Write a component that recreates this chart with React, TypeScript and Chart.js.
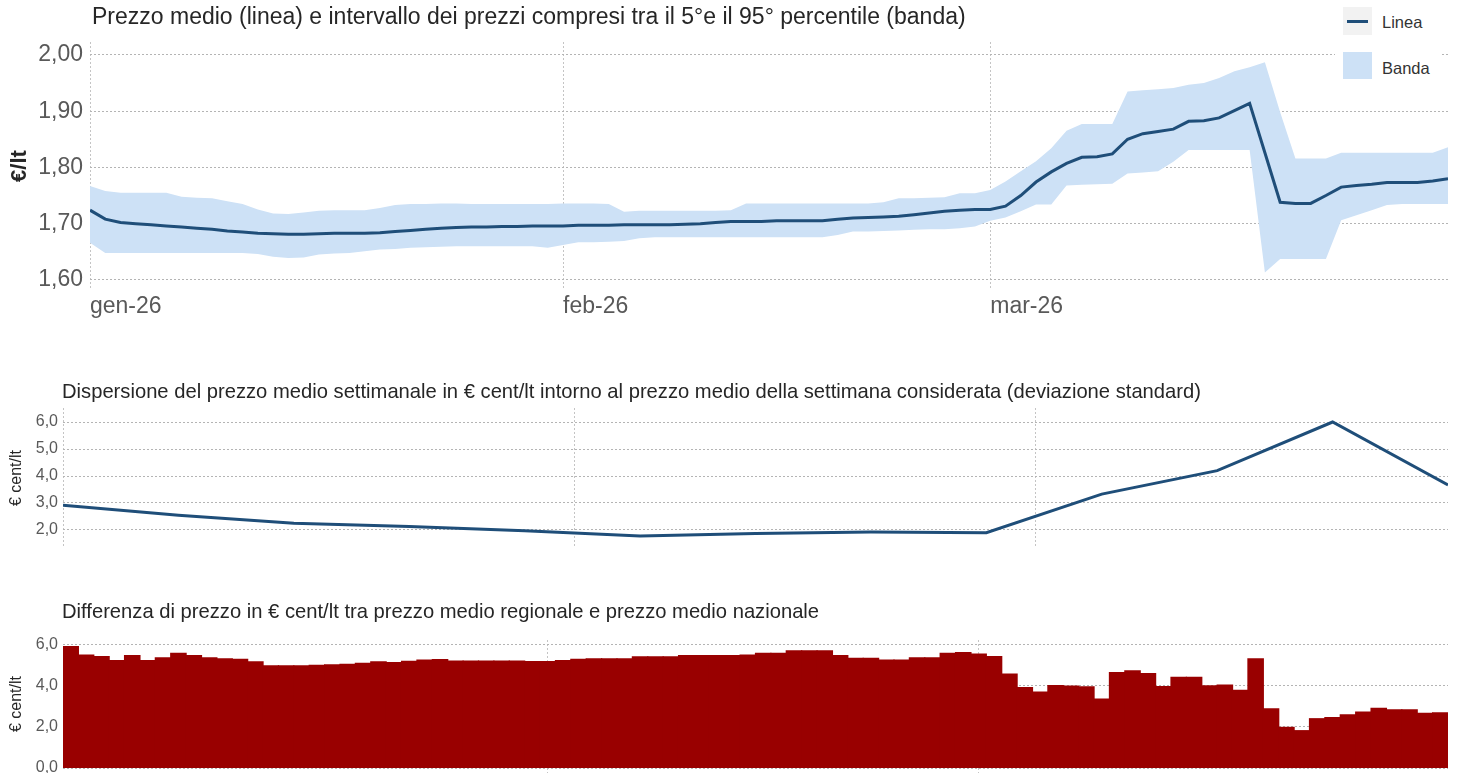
import React, { useEffect, useRef } from "react";
import { Chart, registerables } from "chart.js";

Chart.register(...registerables);

const FONT = "'Liberation Sans', Arial, Helvetica, sans-serif";
const NAVY = "#1f4e79";
const BAND = "#cde1f6";
const BAR = "#990000";
const GRID = "#b4b4b4";
const VGRID = "#c4c4c4";
const TICK = "#595959";
const TEXT = "#262626";

// ---------- shared calendar (1 gen 2026 – 31 mar 2026) ----------
const monthNames = ["gen", "feb", "mar"];
const monthLengths = [31, 28, 31];
const monthTickDays = [0, 31, 59];
const monthTickLabels = ["gen-26", "feb-26", "mar-26"];
const dayLabels: string[] = [];
monthNames.forEach((m, mi) => {
  for (let d = 1; d <= monthLengths[mi]; d++) dayLabels.push(`${d} ${m} 2026`);
});

// ---------- chart 1: prezzo medio e banda 5°-95° percentile (€/lt) ----------
const priceTicks = [1.6, 1.7, 1.8, 1.9, 2.0];
const priceMean = [
  1.724, 1.708, 1.702, 1.700, 1.698, 1.696, 1.694, 1.692, 1.690, 1.687,
  1.685, 1.683, 1.682, 1.681, 1.681, 1.682, 1.683, 1.683, 1.683, 1.684,
  1.686, 1.688, 1.690, 1.692, 1.693, 1.694, 1.694, 1.695, 1.695, 1.696,
  1.696, 1.696, 1.697, 1.697, 1.697, 1.698, 1.698, 1.698, 1.698, 1.699,
  1.700, 1.702, 1.704, 1.704, 1.704, 1.705, 1.705, 1.705, 1.705, 1.708,
  1.710, 1.711, 1.712, 1.713, 1.716, 1.719, 1.722, 1.724, 1.725, 1.725,
  1.731, 1.750, 1.774, 1.792, 1.807, 1.818, 1.819, 1.824, 1.850, 1.860,
  1.864, 1.868, 1.882, 1.883, 1.888, 1.901, 1.914, 1.826, 1.738, 1.736,
  1.736, 1.750, 1.765, 1.768, 1.770, 1.773, 1.773, 1.773, 1.776, 1.780,
];
const priceP95 = [
  1.767, 1.758, 1.755, 1.755, 1.755, 1.755, 1.748, 1.746, 1.745, 1.740,
  1.735, 1.725, 1.718, 1.717, 1.720, 1.723, 1.724, 1.724, 1.724, 1.728,
  1.733, 1.735, 1.735, 1.736, 1.736, 1.735, 1.735, 1.735, 1.735, 1.735,
  1.735, 1.736, 1.736, 1.736, 1.735, 1.721, 1.723, 1.723, 1.723, 1.723,
  1.723, 1.723, 1.724, 1.736, 1.736, 1.736, 1.736, 1.736, 1.736, 1.736,
  1.736, 1.736, 1.738, 1.745, 1.745, 1.746, 1.747, 1.754, 1.754, 1.760,
  1.775, 1.793, 1.811, 1.834, 1.865, 1.877, 1.877, 1.877, 1.935, 1.937,
  1.939, 1.941, 1.947, 1.950, 1.959, 1.971, 1.978, 1.987, 1.898, 1.816,
  1.816, 1.816, 1.826, 1.826, 1.826, 1.826, 1.826, 1.826, 1.826, 1.836,
];
const priceP5 = [
  1.666, 1.648, 1.648, 1.648, 1.648, 1.648, 1.648, 1.648, 1.648, 1.648,
  1.648, 1.646, 1.641, 1.639, 1.640, 1.645, 1.647, 1.648, 1.651, 1.654,
  1.655, 1.657, 1.658, 1.659, 1.660, 1.660, 1.660, 1.660, 1.660, 1.660,
  1.657, 1.662, 1.667, 1.667, 1.668, 1.669, 1.674, 1.676, 1.676, 1.676,
  1.676, 1.676, 1.676, 1.676, 1.676, 1.676, 1.676, 1.676, 1.676, 1.680,
  1.686, 1.686, 1.687, 1.688, 1.689, 1.690, 1.690, 1.692, 1.695, 1.705,
  1.711, 1.722, 1.734, 1.734, 1.768, 1.769, 1.770, 1.771, 1.789, 1.791,
  1.793, 1.810, 1.831, 1.831, 1.831, 1.831, 1.831, 1.613, 1.637, 1.637,
  1.637, 1.637, 1.706, 1.715, 1.724, 1.733, 1.735, 1.735, 1.735, 1.735,
];

// ---------- chart 2: deviazione standard settimanale (€ cent/lt) ----------
const weekDays = [0, 7, 14, 21, 28, 35, 42, 49, 56, 63, 70, 77, 84];
const stdDev = [2.92, 2.55, 2.25, 2.13, 1.97, 1.78, 1.87, 1.93, 1.9, 3.33, 4.2, 6.0, 3.67];
const stdTicks = [2, 3, 4, 5, 6];

// ---------- chart 3: differenza regionale - nazionale (€ cent/lt) ----------
const regionalDiff = [
  5.89, 5.48, 5.40, 5.21, 5.45, 5.21, 5.35, 5.56, 5.45, 5.35,
  5.29, 5.27, 5.15, 4.95, 4.95, 4.95, 4.98, 5.00, 5.03, 5.08,
  5.15, 5.11, 5.18, 5.23, 5.26, 5.19, 5.19, 5.19, 5.19, 5.19,
  5.16, 5.16, 5.21, 5.27, 5.29, 5.29, 5.29, 5.39, 5.39, 5.39,
  5.45, 5.45, 5.45, 5.45, 5.48, 5.56, 5.56, 5.68, 5.68, 5.68,
  5.45, 5.32, 5.32, 5.24, 5.24, 5.35, 5.35, 5.56, 5.60, 5.52,
  5.40, 4.55, 3.90, 3.68, 4.00, 3.97, 3.94, 3.34, 4.63, 4.71,
  4.58, 3.95, 4.40, 4.40, 3.98, 4.02, 3.77, 5.29, 2.87, 1.97,
  1.81, 2.39, 2.44, 2.58, 2.71, 2.90, 2.82, 2.82, 2.65, 2.68,
];
const diffTicks = [0, 2, 4, 6];

// ---------- helpers ----------
const fixedWidth = (w: number) => (scale: any) => {
  scale.width = w;
  scale.paddingTop = 0;
  scale.paddingBottom = 0;
};
const fixedHeight = (h: number) => (scale: any) => {
  scale.height = h;
  scale.paddingLeft = 0;
  scale.paddingRight = 0;
};
const setTicks = (values: number[]) => (scale: any) => {
  scale.ticks = values.map((v) => ({ value: v }));
};
const comma = (digits: number) => (v: any) => Number(v).toFixed(digits).replace(".", ",");

const basePlugins = {
  legend: { display: false },
  tooltip: { enabled: false },
  title: { display: false },
};

export default function App() {
  const topRef = useRef<HTMLCanvasElement>(null);
  const midRef = useRef<HTMLCanvasElement>(null);
  const botRef = useRef<HTMLCanvasElement>(null);

  useEffect(() => {
    const charts: Chart[] = [];

    charts.push(
      new Chart(topRef.current!, {
        type: "line",
        data: {
          datasets: [
            {
              label: "Linea",
              data: priceMean.map((y, i) => ({ x: i, y })),
              borderColor: NAVY,
              borderWidth: 3,
              pointRadius: 0,
              fill: false,
              order: 0,
            },
            {
              label: "Banda",
              data: priceP95.map((y, i) => ({ x: i, y })),
              borderColor: "rgba(0,0,0,0)",
              borderWidth: 0,
              backgroundColor: BAND,
              pointRadius: 0,
              fill: "+1",
              order: 1,
            },
            {
              label: "P5",
              data: priceP5.map((y, i) => ({ x: i, y })),
              borderColor: "rgba(0,0,0,0)",
              borderWidth: 0,
              backgroundColor: BAND,
              pointRadius: 0,
              fill: false,
              order: 2,
            },
          ],
        },
        options: {
          responsive: false,
          animation: false,
          events: [],
          layout: { padding: { top: 42, right: 11, left: 0, bottom: 0 } },
          plugins: basePlugins as any,
          scales: {
            x: {
              type: "linear",
              min: 0,
              max: 89,
              afterFit: fixedHeight(40),
              afterBuildTicks: setTicks(monthTickDays),
              ticks: {
                callback: (_v: any, i: number) => monthTickLabels[i],
                align: "start",
                font: { family: FONT, size: 23 },
                color: TICK,
                padding: 3,
                maxRotation: 0,
                autoSkip: false,
              },
              grid: { color: VGRID, drawTicks: false, lineWidth: 1 },
              border: { display: false, dash: [2, 2] },
            },
            y: {
              min: 1.582,
              max: 2.023,
              afterFit: fixedWidth(90),
              afterBuildTicks: setTicks(priceTicks),
              ticks: {
                callback: comma(2),
                font: { family: FONT, size: 23 },
                color: TICK,
                padding: 7,
              },
              grid: { color: GRID, drawTicks: false, lineWidth: 1 },
              border: { display: false, dash: [2, 2] },
              title: {
                display: true,
                text: "€/lt",
                font: { family: FONT, size: 22, weight: "bold" },
                color: TEXT,
                padding: { top: 7, bottom: 0 },
              },
            },
          },
        } as any,
      })
    );

    charts.push(
      new Chart(midRef.current!, {
        type: "line",
        data: {
          datasets: [
            {
              label: "Deviazione standard",
              data: stdDev.map((y, i) => ({ x: weekDays[i], y })),
              borderColor: NAVY,
              borderWidth: 3,
              pointRadius: 0,
              fill: false,
            },
          ],
        },
        options: {
          responsive: false,
          animation: false,
          events: [],
          layout: { padding: { top: 8, right: 11, left: 0, bottom: 0 } },
          plugins: basePlugins as any,
          scales: {
            x: {
              type: "linear",
              min: 0,
              max: 84,
              afterFit: fixedHeight(12),
              afterBuildTicks: setTicks(monthTickDays),
              ticks: { display: false },
              grid: { color: VGRID, drawTicks: false, lineWidth: 1 },
              border: { display: false, dash: [2, 2] },
            },
            y: {
              min: 1.333,
              max: 6.519,
              afterFit: fixedWidth(63),
              afterBuildTicks: setTicks(stdTicks),
              ticks: {
                callback: comma(1),
                font: { family: FONT, size: 16 },
                color: TICK,
                padding: 5,
              },
              grid: { color: GRID, drawTicks: false, lineWidth: 1 },
              border: { display: false, dash: [2, 2] },
              title: {
                display: true,
                text: "€ cent/lt",
                font: { family: FONT, size: 16 },
                color: TEXT,
                padding: { top: 7, bottom: 0 },
              },
            },
          },
        } as any,
      })
    );

    const monthLine = (ctx: any) =>
      ctx.index === monthTickDays[1] || ctx.index === monthTickDays[2] ? VGRID : "rgba(0,0,0,0)";

    charts.push(
      new Chart(botRef.current!, {
        type: "bar",
        data: {
          labels: dayLabels,
          datasets: [
            {
              label: "Differenza",
              data: regionalDiff,
              backgroundColor: BAR,
              borderWidth: 0,
              barPercentage: 1,
              categoryPercentage: 1,
              inflateAmount: 0.6,
            },
          ],
        },
        options: {
          responsive: false,
          animation: false,
          events: [],
          layout: { padding: { top: 50, right: 11, left: 0, bottom: 0 } },
          plugins: basePlugins as any,
          scales: {
            x: {
              type: "category",
              offset: true,
              afterFit: fixedHeight(5),
              ticks: { display: false, autoSkip: false },
              grid: {
                offset: false,
                color: monthLine,
                tickColor: monthLine,
                drawTicks: true,
                tickLength: 5,
                tickBorderDash: [2, 2],
                lineWidth: 1,
              },
              border: { display: false, dash: [2, 2] },
            },
            y: {
              min: 0,
              max: 6.21,
              afterFit: fixedWidth(63),
              afterBuildTicks: setTicks(diffTicks),
              ticks: {
                callback: comma(1),
                font: { family: FONT, size: 16 },
                color: TICK,
                padding: 5,
              },
              grid: { color: GRID, drawTicks: false, lineWidth: 1 },
              border: { display: false, dash: [2, 2] },
              title: {
                display: true,
                text: "€ cent/lt",
                font: { family: FONT, size: 16 },
                color: TEXT,
                padding: { top: 7, bottom: 0 },
              },
            },
          },
        } as any,
      })
    );

    return () => charts.forEach((c) => c.destroy());
  }, []);

  const abs = (left: number, top: number, extra: React.CSSProperties = {}): React.CSSProperties => ({
    position: "absolute",
    left,
    top,
    ...extra,
  });

  return (
    <div
      style={{
        position: "absolute",
        left: 0,
        top: 0,
        width: 1459,
        height: 773,
        overflow: "hidden",
        background: "#ffffff",
        fontFamily: FONT,
        color: TEXT,
      }}
    >
      <canvas ref={topRef} width={1459} height={330} style={abs(0, 0, { width: 1459, height: 330 })} />
      <canvas ref={midRef} width={1459} height={160} style={abs(0, 400, { width: 1459, height: 160 })} />
      <canvas ref={botRef} width={1459} height={183} style={abs(0, 590, { width: 1459, height: 183 })} />

      <div style={abs(92, 5, { fontSize: 23, lineHeight: "23px", whiteSpace: "nowrap" })}>
        Prezzo medio (linea) e intervallo dei prezzi compresi tra il 5°e il 95° percentile (banda)
      </div>
      <div style={abs(62, 381, { fontSize: 20.2, lineHeight: "20px", whiteSpace: "nowrap" })}>
        Dispersione del prezzo medio settimanale in € cent/lt intorno al prezzo medio della settimana considerata (deviazione standard)
      </div>
      <div style={abs(62, 601, { fontSize: 20.2, lineHeight: "20px", whiteSpace: "nowrap" })}>
        Differenza di prezzo in € cent/lt tra prezzo medio regionale e prezzo medio nazionale
      </div>

      {/* legend */}
      <div style={abs(1335, 0, { width: 105, height: 88, background: "#ffffff" })} />
      <div style={abs(1343, 7, { width: 29, height: 28, background: "#f2f2f2" })}>
        <div style={abs(4, 13, { width: 21, height: 3, background: NAVY })} />
      </div>
      <div style={abs(1382, 12, { fontSize: 16.5, lineHeight: "20px", color: "#333" })}>Linea</div>
      <div style={abs(1343, 52, { width: 29, height: 27, background: BAND })} />
      <div style={abs(1382, 58, { fontSize: 16.5, lineHeight: "20px", color: "#333" })}>Banda</div>
    </div>
  );
}
